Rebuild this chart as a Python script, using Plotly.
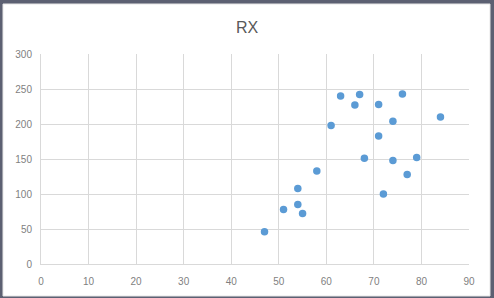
import plotly.graph_objects as go

x_vals = [63, 67, 76, 66, 71, 84, 74, 61, 71, 68, 74, 79, 58, 77, 54, 72, 51, 54, 55, 47]
y_vals = [240, 242, 243, 227, 228, 210, 204, 198, 183, 151, 148, 152, 133, 128, 108, 100, 78, 85, 72, 46]
title_text = "RX"
x_ticks = list(range(0, 91, 10))
y_ticks = list(range(0, 301, 50))

fig = go.Figure()
fig.add_trace(go.Scatter(
    x=x_vals, y=y_vals, mode="markers",
    marker=dict(color="#5B9BD5", size=7.5, line=dict(width=0)),
    showlegend=False,
))

W, H = 494, 298
ml, mr, mt, mb = 41, 25, 54, 34
pw, ph = W - ml - mr, H - mt - mb

def px(xp):
    return (xp - ml) / pw

def py(yp):
    return (H - mb - yp) / ph

fig.add_shape(type="rect", xref="paper", yref="paper",
              x0=px(3), x1=px(490), y0=py(296), y1=py(4),
              fillcolor="white", line=dict(color="#E6E6E6", width=1), layer="below")

fig.update_layout(
    width=W, height=H,
    margin=dict(l=ml, r=mr, t=mt, b=mb, autoexpand=False),
    paper_bgcolor="#5c6072",
    plot_bgcolor="white",
    title=dict(text=title_text, x=0.5, xanchor="center", y=1 - 27 / H, yanchor="middle",
               font=dict(family="Liberation Sans, Arial", size=16, color="#595959")),
    font=dict(family="Liberation Sans, Arial", size=10, color="#7f7f7f"),
    xaxis=dict(range=[0, 90], tickvals=x_ticks, showgrid=True, gridcolor="#D9D9D9",
               gridwidth=1, zeroline=False, showline=True, linecolor="#D9D9D9",
               ticks="", ticklen=0, fixedrange=True, automargin=False),
    yaxis=dict(range=[0, 300], tickvals=y_ticks, showgrid=True, gridcolor="#D9D9D9",
               gridwidth=1, zeroline=False, showline=True, linecolor="#D9D9D9",
               ticks="", ticklen=0, fixedrange=True, automargin=False),
)
fig.update_xaxes(ticklabelstandoff=8)
fig.update_yaxes(ticklabelstandoff=6)

fig.write_html("out.html", config=dict(displayModeBar=False),
               post_script="document.body.style.margin='0';document.body.style.padding='0';")
